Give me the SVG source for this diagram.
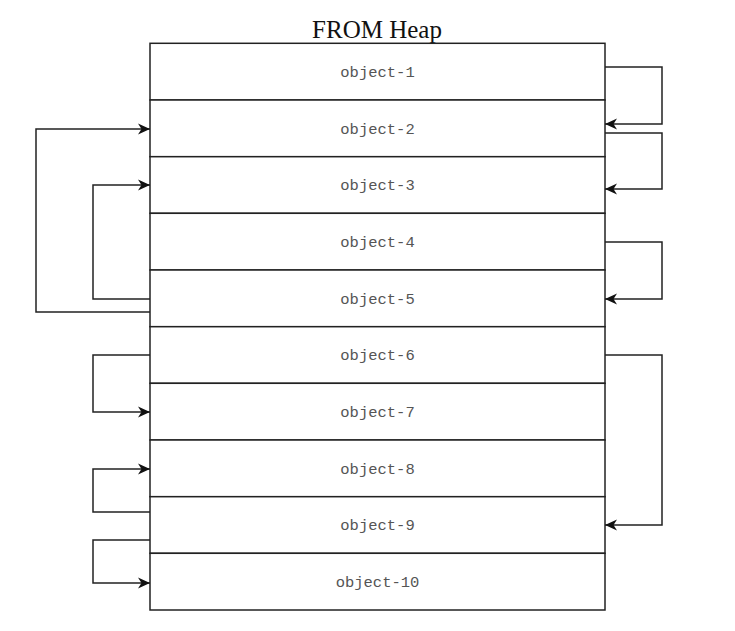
<svg xmlns="http://www.w3.org/2000/svg" width="735" height="631" viewBox="0 0 735 631">
<style>
.row{fill:#fff;stroke:#222;stroke-width:1.5}
.lbl{font-family:"Liberation Mono",monospace;font-size:15.5px;fill:#555;text-anchor:middle}
.title{font-family:"Liberation Serif",serif;font-size:25px;fill:#111;text-anchor:middle}
.conn{fill:none;stroke:#222;stroke-width:1.5;marker-end:url(#arr)}
</style>
<defs>
<marker id="arr" markerUnits="userSpaceOnUse" markerWidth="13" markerHeight="13" viewBox="0 0 13 13" refX="12" refY="6.5" orient="auto">
<path d="M0,1 L12,6.5 L0,12 L3.5,6.5 Z" fill="#111"/>
</marker>
</defs>
<rect width="735" height="631" fill="#fff"/>
<text class="title" x="377" y="38">FROM Heap</text>
<g id="object-1"><rect class="row" x="150" y="43.3" width="455" height="56.7"/><text class="lbl" x="377.5" y="77">object-1</text></g>
<g id="object-2"><rect class="row" x="150" y="100" width="455" height="56.7"/><text class="lbl" x="377.5" y="133.5">object-2</text></g>
<g id="object-3"><rect class="row" x="150" y="156.7" width="455" height="56.6"/><text class="lbl" x="377.5" y="190">object-3</text></g>
<g id="object-4"><rect class="row" x="150" y="213.3" width="455" height="56.7"/><text class="lbl" x="377.5" y="247">object-4</text></g>
<g id="object-5"><rect class="row" x="150" y="270" width="455" height="56.7"/><text class="lbl" x="377.5" y="303.5">object-5</text></g>
<g id="object-6"><rect class="row" x="150" y="326.7" width="455" height="56.6"/><text class="lbl" x="377.5" y="360">object-6</text></g>
<g id="object-7"><rect class="row" x="150" y="383.3" width="455" height="56.7"/><text class="lbl" x="377.5" y="417">object-7</text></g>
<g id="object-8"><rect class="row" x="150" y="440" width="455" height="56.7"/><text class="lbl" x="377.5" y="473.5">object-8</text></g>
<g id="object-9"><rect class="row" x="150" y="496.7" width="455" height="56.6"/><text class="lbl" x="377.5" y="530">object-9</text></g>
<g id="object-10"><rect class="row" x="150" y="553.3" width="455" height="56.7"/><text class="lbl" x="377.5" y="587">object-10</text></g>
<g id="connectors">
<path class="conn" d="M605,67 H662 V124 H605"/>
<path class="conn" d="M605,133 H662 V189 H605"/>
<path class="conn" d="M605,242 H662 V299 H605"/>
<path class="conn" d="M605,355 H662 V525 H605"/>
<path class="conn" d="M150,312 H36 V129 H150"/>
<path class="conn" d="M150,299 H93 V185 H150"/>
<path class="conn" d="M150,355 H93 V412 H150"/>
<path class="conn" d="M150,512 H93 V469 H150"/>
<path class="conn" d="M150,540 H93 V583 H150"/>
</g>
</svg>
